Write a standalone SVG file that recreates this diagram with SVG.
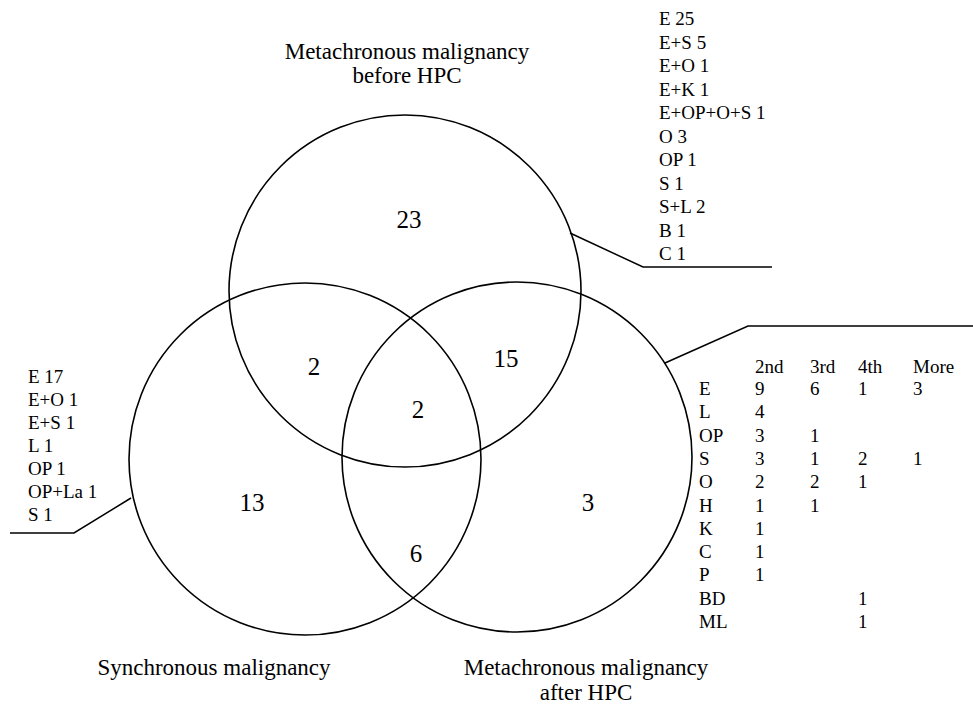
<svg xmlns="http://www.w3.org/2000/svg" width="973" height="714" viewBox="0 0 973 714">
<style>
.c{fill:none;stroke:#000;stroke-width:1.6}
.l{fill:none;stroke:#000;stroke-width:1.5}
text{font-family:"Liberation Serif","Times New Roman",serif;fill:#000}
.t{font-size:23px;text-anchor:middle}
.n{font-size:25px;text-anchor:middle}
.s{font-size:19px}
</style>
<rect width="973" height="714" fill="#fff"/>
<g id="before">
<circle class="c" cx="405" cy="291" r="176"/>
<text class="t" x="407" y="59">Metachronous malignancy</text>
<text class="t" x="407" y="83">before HPC</text>
</g>
<g id="synchronous">
<circle class="c" cx="305" cy="459" r="176"/>
<text class="t" x="214" y="675">Synchronous malignancy</text>
</g>
<g id="after">
<circle class="c" cx="517" cy="457" r="175"/>
<text class="t" x="586" y="675">Metachronous malignancy</text>
<text class="t" x="586" y="700">after HPC</text>
</g>
<g id="counts">
<text class="n" x="409" y="228">23</text>
<text class="n" x="314" y="375">2</text>
<text class="n" x="506" y="367">15</text>
<text class="n" x="418" y="418">2</text>
<text class="n" x="252" y="511">13</text>
<text class="n" x="588" y="511">3</text>
<text class="n" x="416" y="562">6</text>
</g>
<g id="connectors">
<path class="l" d="M570,233 L643,267 L772,267"/>
<path class="l" d="M665,363 L748,326 L973,326"/>
<path class="l" d="M131,498 L74,533 L10,533"/>
</g>
<g id="list-before" class="s">
<text x="659" y="25">E 25</text>
<text x="659" y="48.5">E+S 5</text>
<text x="659" y="72">E+O 1</text>
<text x="659" y="95.5">E+K 1</text>
<text x="659" y="119">E+OP+O+S 1</text>
<text x="659" y="142.5">O 3</text>
<text x="659" y="166">OP 1</text>
<text x="659" y="189.5">S 1</text>
<text x="659" y="213">S+L 2</text>
<text x="659" y="236.5">B 1</text>
<text x="659" y="260">C 1</text>
</g>
<g id="list-synchronous" class="s">
<text x="28" y="383">E 17</text>
<text x="28" y="406">E+O 1</text>
<text x="28" y="429">E+S 1</text>
<text x="28" y="452">L 1</text>
<text x="28" y="475">OP 1</text>
<text x="28" y="498">OP+La 1</text>
<text x="28" y="521">S 1</text>
</g>
<g id="table-after" class="s">
<text x="755" y="373">2nd</text><text x="810" y="373">3rd</text><text x="858" y="373">4th</text><text x="913" y="373">More</text>
<text x="699" y="395">E</text><text x="755" y="395">9</text><text x="810" y="395">6</text><text x="858" y="395">1</text><text x="913" y="395">3</text>
<text x="699" y="418.3">L</text><text x="755" y="418.3">4</text>
<text x="699" y="441.6">OP</text><text x="755" y="441.6">3</text><text x="810" y="441.6">1</text>
<text x="699" y="464.9">S</text><text x="755" y="464.9">3</text><text x="810" y="464.9">1</text><text x="858" y="464.9">2</text><text x="913" y="464.9">1</text>
<text x="699" y="488.2">O</text><text x="755" y="488.2">2</text><text x="810" y="488.2">2</text><text x="858" y="488.2">1</text>
<text x="699" y="511.5">H</text><text x="755" y="511.5">1</text><text x="810" y="511.5">1</text>
<text x="699" y="534.8">K</text><text x="755" y="534.8">1</text>
<text x="699" y="558.1">C</text><text x="755" y="558.1">1</text>
<text x="699" y="581.4">P</text><text x="755" y="581.4">1</text>
<text x="699" y="604.7">BD</text><text x="858" y="604.7">1</text>
<text x="699" y="628">ML</text><text x="858" y="628">1</text>
</g>
</svg>
